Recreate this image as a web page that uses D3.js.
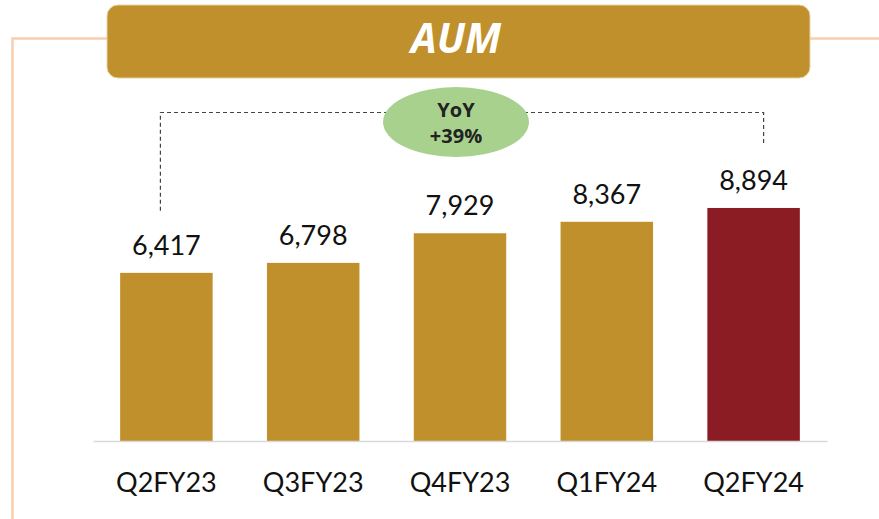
<!DOCTYPE html>
<html>
<head>
<meta charset="utf-8">
<script src="https://cdn.jsdelivr.net/npm/d3@7"></script>
<style>
  body { margin: 0; background: #fff; }
  svg { display: block; }
</style>
</head>
<body>
<div id="chart"></div>
<script>
var categories = ["Q2FY23", "Q3FY23", "Q4FY23", "Q1FY24", "Q2FY24"];
var aum = [6417, 6798, 7929, 8367, 8894];
var title = "AUM";
var yoyLines = ["YoY", "+39%"];

var width = 879, height = 519;
var gold = "#C0902C", maroon = "#8B1C24";

var svg = d3.select("#chart").append("svg")
    .attr("width", width)
    .attr("height", height);

var x = d3.scaleBand()
    .domain(categories)
    .range([93, 827])
    .paddingInner(0.37)
    .paddingOuter(0.185);

var y = d3.scaleLinear()
    .domain([0, 10000])
    .range([441, 179]);

// peach frame
svg.append("path")
    .attr("d", "M12.5,519 L12.5,38.5 L110,38.5 M805,38.5 L879,38.5")
    .attr("fill", "none")
    .attr("stroke", "#F9CDAE")
    .attr("stroke-width", 2.5);

// title banner
svg.append("rect")
    .attr("x", 107).attr("y", 5)
    .attr("width", 703).attr("height", 73)
    .attr("rx", 11)
    .attr("fill", gold)
    .attr("stroke", "#E8D3A0")
    .attr("stroke-width", 1);

svg.append("text")
    .attr("x", 456).attr("y", 53)
    .attr("text-anchor", "middle")
    .attr("font-family", "Open Sans")
    .attr("font-weight", "bold")
    .attr("font-style", "italic")
    .attr("font-size", 41)
    .attr("fill", "#fff")
    .text(title);

// dashed bracket from first to last bar
var first = categories[0], last = categories[categories.length - 1];
var x0 = x(first) + x.bandwidth() / 2 - 6;
var x1 = x(last) + x.bandwidth() / 2 + 10;
svg.append("path")
    .attr("d", "M" + x0 + "," + (y(aum[0]) - 62) + " L" + x0 + ",112.5 L" + x1 + ",112.5 L" + x1 + "," + (y(aum[aum.length - 1]) - 62))
    .attr("fill", "none")
    .attr("stroke", "#444")
    .attr("stroke-width", 1.2)
    .attr("stroke-dasharray", "4,3");

// YoY bubble
svg.append("ellipse")
    .attr("cx", 456).attr("cy", 122)
    .attr("rx", 73).attr("ry", 35)
    .attr("fill", "#A9D18E");

svg.selectAll(".yoy")
    .data(yoyLines)
    .enter().append("text")
    .attr("class", "yoy")
    .attr("x", 456)
    .attr("y", function(d, i) { return 117 + i * 26; })
    .attr("text-anchor", "middle")
    .attr("font-family", "Open Sans")
    .attr("font-weight", "bold")
    .attr("font-size", 20)
    .attr("fill", "#222")
    .text(function(d) { return d; });

// bars
svg.selectAll(".bar")
    .data(aum)
    .enter().append("rect")
    .attr("class", "bar")
    .attr("x", function(d, i) { return x(categories[i]); })
    .attr("y", function(d) { return y(d); })
    .attr("width", x.bandwidth())
    .attr("height", function(d) { return y(0) - y(d); })
    .attr("fill", function(d, i) { return i == aum.length - 1 ? maroon : gold; });

// value labels
svg.selectAll(".val")
    .data(aum)
    .enter().append("text")
    .attr("class", "val")
    .attr("x", function(d, i) { return x(categories[i]) + x.bandwidth() / 2; })
    .attr("y", function(d) { return y(d) - 18; })
    .attr("text-anchor", "middle")
    .attr("font-family", "Lato")
    .attr("font-size", 27)
    .attr("fill", "#111")
    .text(function(d) { return d3.format(",")(d); });

// baseline axis
var axis = svg.append("g")
    .attr("transform", "translate(0," + y(0) + ")")
    .call(d3.axisBottom(x).tickSize(0).tickPadding(32));
axis.select(".domain")
    .attr("stroke", "#D9D9D9")
    .attr("stroke-width", 1.5);
axis.selectAll("text")
    .attr("font-family", "Lato")
    .attr("font-size", 27)
    .attr("fill", "#111")
    .attr("dy", "0.71em");
</script>
</body>
</html>
